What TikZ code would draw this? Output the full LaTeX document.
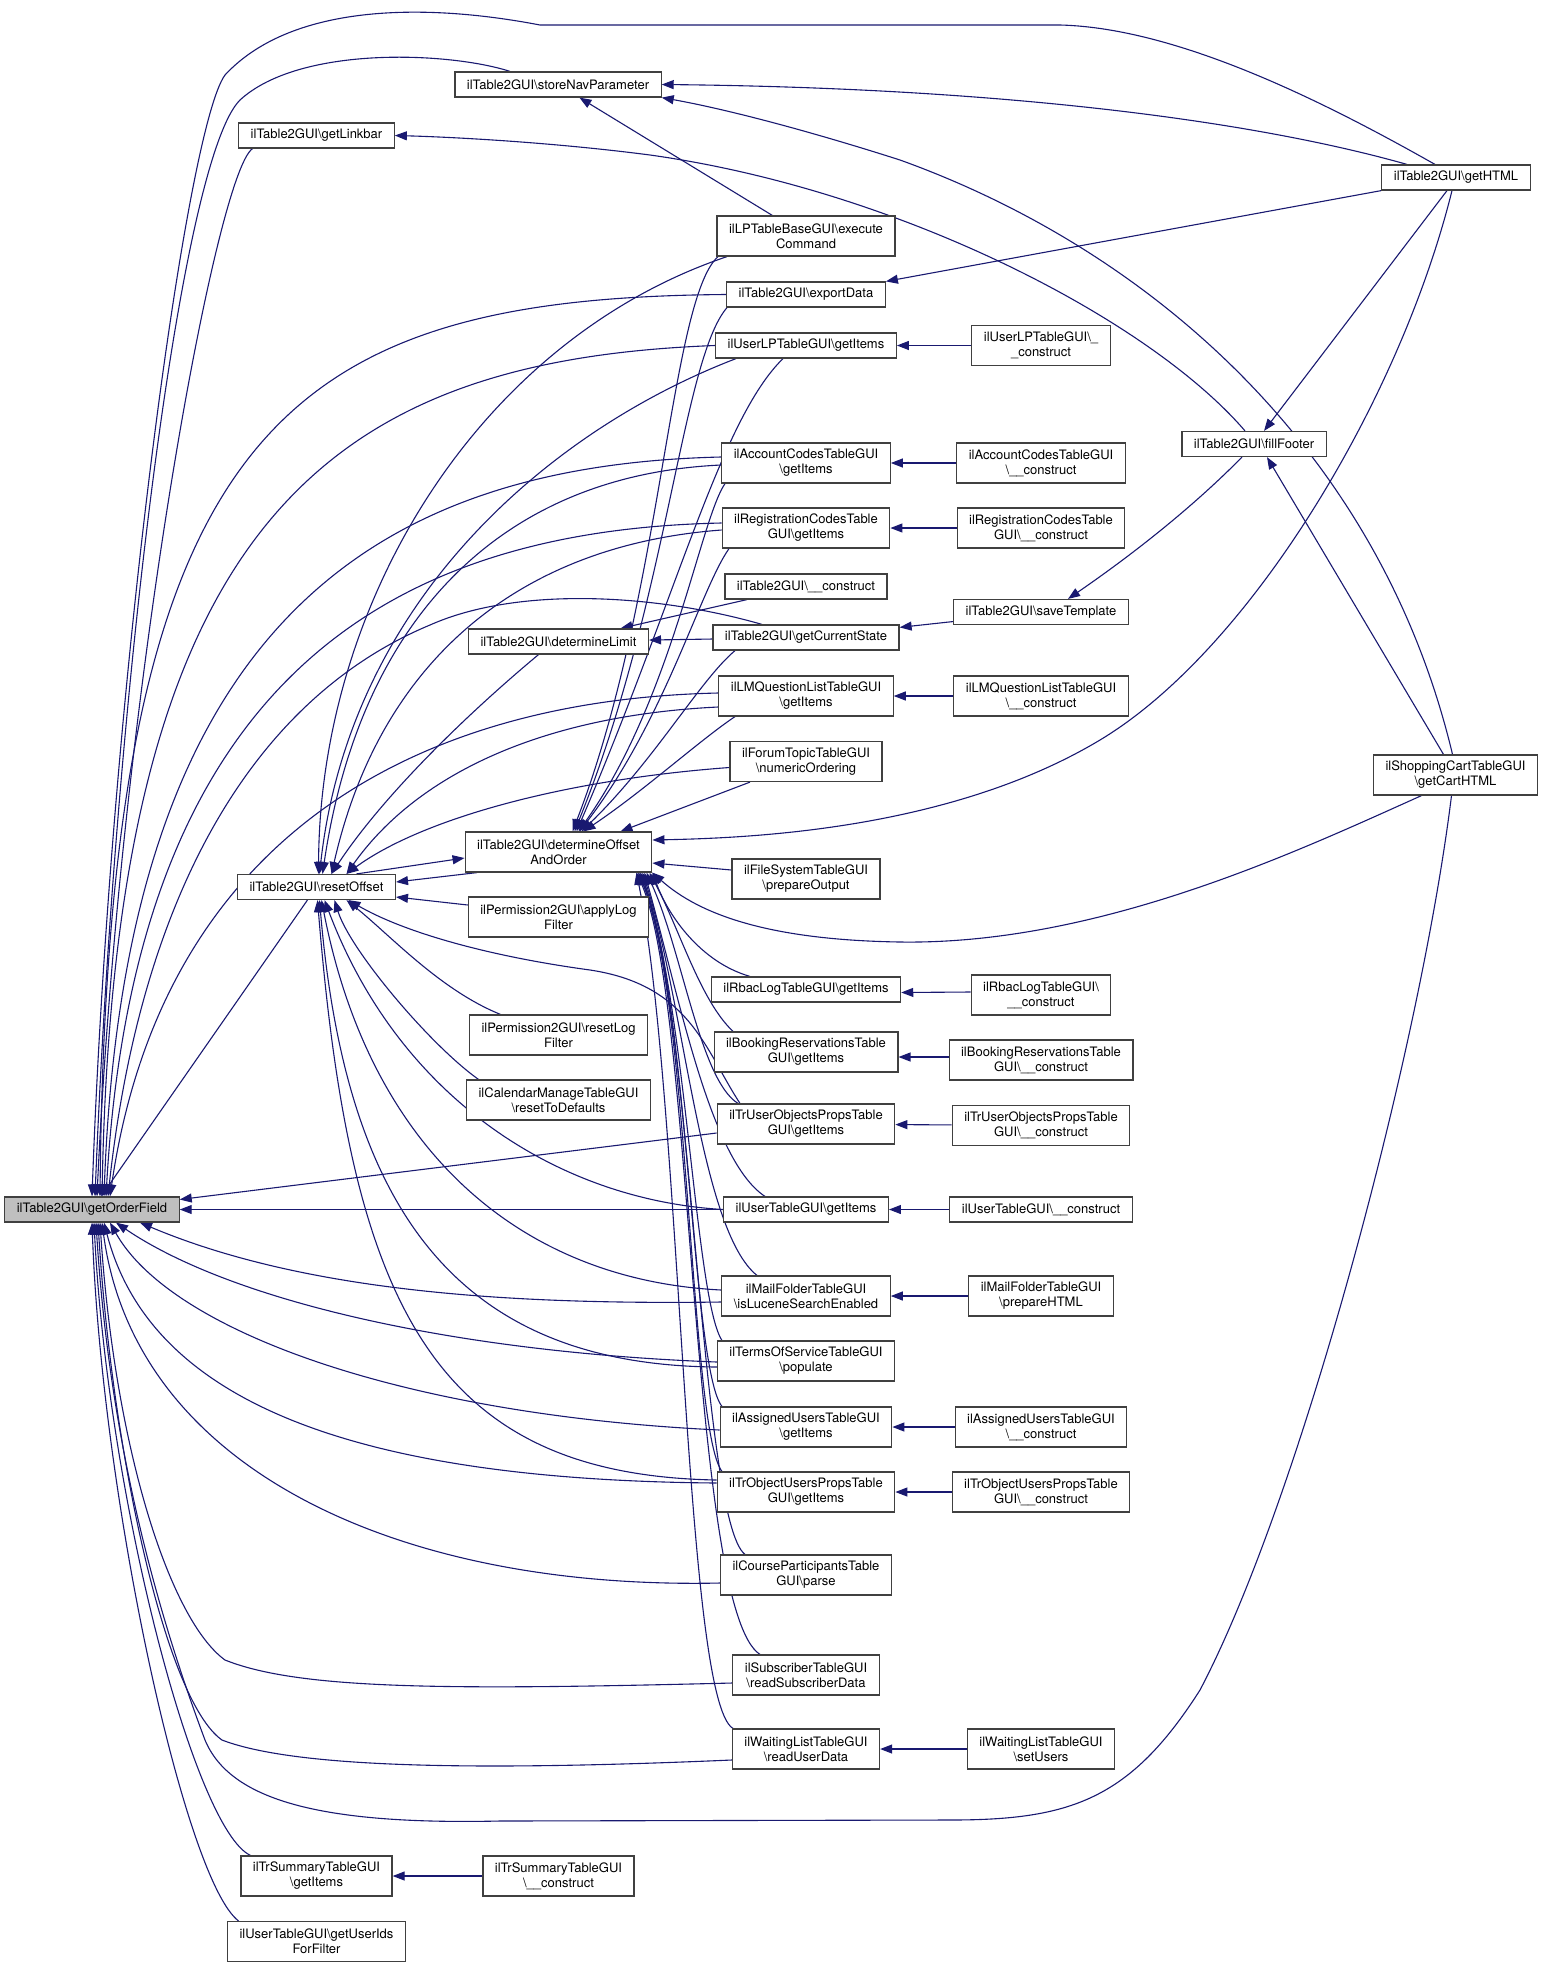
\documentclass[tikz,border=0pt]{standalone}
\usepackage{fontspec}
\setmainfont{TeX Gyre Heros}
\usepackage{tikz}
\usetikzlibrary{arrows.meta,backgrounds}
\definecolor{edgeblue}{RGB}{25,25,112}
\definecolor{boxline}{RGB}{64,64,64}
\newcommand{\bs}{\textbackslash}

\begin{document}
\begin{tikzpicture}[x=1pt, y=1pt,
            fn/.style={draw=boxline, line width=1.2pt, fill=white, rectangle, align=center, inner xsep=12pt, inner ysep=2pt, minimum height=25pt, font=\fontsize{13}{15}\selectfont},
            fntwo/.style={fn, minimum height=40pt},
            fnfocus/.style={fn, fill=gray!50},
            call/.style={draw=edgeblue, line width=1.1pt, -{Triangle[length=12pt,width=9pt]}}
        ]
        \useasboundingbox (0,0) rectangle (1543,-1968);

        % Knoten
        \node[fnfocus] (getorder) at (92,-1209.5) {ilTable2GUI\bs getOrderField};

        \node[fn] (linkbar) at (316.5,-135.5) {ilTable2GUI\bs getLinkbar};
        \node[fn] (reset) at (316.5,-887) {ilTable2GUI\bs resetOffset};
        \node[fntwo] (trsum) at (316.5,-1876) {ilTrSummaryTableGUI\\\bs getItems};
        \node[fntwo] (userids) at (316.5,-1941.5) {ilUserTableGUI\bs getUserIds\\ForFilter};

        \node[fn] (storenav) at (558,-84.5) {ilTable2GUI\bs storeNavParameter};
        \node[fn] (detlimit) at (558.5,-641.5) {ilTable2GUI\bs determineLimit};
        \node[fntwo] (detorder) at (558.5,-852) {ilTable2GUI\bs determineOffset\\AndOrder};
        \node[fntwo] (applylog) at (558.5,-917) {ilPermission2GUI\bs applyLog\\Filter};
        \node[fntwo] (resetlog) at (558.5,-1035) {ilPermission2GUI\bs resetLog\\Filter};
        \node[fntwo] (calendar) at (558.5,-1100) {ilCalendarManageTableGUI\\\bs resetToDefaults};
        \node[fntwo] (trsumcon) at (558.5,-1876) {ilTrSummaryTableGUI\\\bs\_\_construct};

        \node[fntwo] (exec) at (806,-236) {ilLPTableBaseGUI\bs execute\\Command};
        \node[fn] (export) at (806,-294.5) {ilTable2GUI\bs exportData};
        \node[fn] (userlp) at (806,-345.5) {ilUserLPTableGUI\bs getItems};
        \node[fntwo] (account) at (806,-463) {ilAccountCodesTableGUI\\\bs getItems};
        \node[fntwo] (regcodes) at (806,-528) {ilRegistrationCodesTable\\GUI\bs getItems};
        \node[fn] (t2con) at (806,-586.5) {ilTable2GUI\bs\_\_construct};
        \node[fn] (curstate) at (806,-637.5) {ilTable2GUI\bs getCurrentState};
        \node[fntwo] (lmq) at (806,-696) {ilLMQuestionListTableGUI\\\bs getItems};
        \node[fntwo] (forum) at (806,-761.5) {ilForumTopicTableGUI\\\bs numericOrdering};
        \node[fntwo] (filesys) at (806,-879) {ilFileSystemTableGUI\\\bs prepareOutput};
        \node[fn] (rbac) at (806,-989.5) {ilRbacLogTableGUI\bs getItems};
        \node[fntwo] (booking) at (806,-1052) {ilBookingReservationsTable\\GUI\bs getItems};
        \node[fntwo] (truser) at (806,-1124) {ilTrUserObjectsPropsTable\\GUI\bs getItems};
        \node[fn] (usertable) at (806,-1209.5) {ilUserTableGUI\bs getItems};
        \node[fntwo] (mailfolder) at (806,-1296) {ilMailFolderTableGUI\\\bs isLuceneSearchEnabled};
        \node[fntwo] (terms) at (806,-1361) {ilTermsOfServiceTableGUI\\\bs populate};
        \node[fntwo] (assigned) at (806,-1427) {ilAssignedUsersTableGUI\\\bs getItems};
        \node[fntwo] (trobject) at (806,-1492) {ilTrObjectUsersPropsTable\\GUI\bs getItems};
        \node[fntwo] (course) at (806,-1575) {ilCourseParticipantsTable\\GUI\bs parse};
        \node[fntwo] (subscriber) at (806,-1675) {ilSubscriberTableGUI\\\bs readSubscriberData};
        \node[fntwo] (waiting) at (806,-1749) {ilWaitingListTableGUI\\\bs readUserData};

        \node[fntwo] (userlpcon) at (1041,-345.5) {ilUserLPTableGUI\bs\_\\\_construct};
        \node[fntwo] (accountcon) at (1041,-463) {ilAccountCodesTableGUI\\\bs\_\_construct};
        \node[fntwo] (regcon) at (1041,-528) {ilRegistrationCodesTable\\GUI\bs\_\_construct};
        \node[fn] (savetpl) at (1041,-612) {ilTable2GUI\bs saveTemplate};
        \node[fntwo] (lmqcon) at (1041,-696) {ilLMQuestionListTableGUI\\\bs\_\_construct};
        \node[fntwo] (rbaccon) at (1041,-995) {ilRbacLogTableGUI\bs\\\_\_construct};
        \node[fntwo] (bookingcon) at (1041,-1060) {ilBookingReservationsTable\\GUI\bs\_\_construct};
        \node[fntwo] (trusercon) at (1041,-1125.5) {ilTrUserObjectsPropsTable\\GUI\bs\_\_construct};
        \node[fn] (usertablecon) at (1041,-1209.5) {ilUserTableGUI\bs\_\_construct};
        \node[fntwo] (mailcon) at (1041,-1296) {ilMailFolderTableGUI\\\bs prepareHTML};
        \node[fntwo] (assignedcon) at (1041,-1427) {ilAssignedUsersTableGUI\\\bs\_\_construct};
        \node[fntwo] (trobjectcon) at (1041,-1492) {ilTrObjectUsersPropsTable\\GUI\bs\_\_construct};
        \node[fntwo] (waitingcon) at (1041,-1749) {ilWaitingListTableGUI\\\bs setUsers};

        \node[fn] (fillfooter) at (1254,-444) {ilTable2GUI\bs fillFooter};
        \node[fn] (gethtml) at (1456,-177.5) {ilTable2GUI\bs getHTML};
        \node[fntwo] (cart) at (1455.5,-775) {ilShoppingCartTableGUI\\\bs getCartHTML};

        % Kanten zwischen Knoten
        \begin{scope}[on background layer]

        % -> getOrderField, von oben
        \draw[call] ([xshift=-21pt]gethtml.north) .. controls (1330,-105) and (1180,-28) .. (1060,-25) -- (540,-25) .. controls (420,-2) and (290,-5) .. (225,-75) .. controls (185,-130) and (110,-700) .. (getorder.north);

        \draw[call] ([xshift=-48pt]storenav.north) .. controls (450,-52) and (300,-45) .. (240,-100) .. controls (180,-160) and (115,-700) .. ([xshift=3pt]getorder.north);

        \draw[call] ([xshift=-64pt]linkbar.south) .. controls (215,-175) and (120,-700) .. ([xshift=5pt]getorder.north);

        \draw[call] (export.west) .. controls (280,-298) and (108,-430) .. ([xshift=8pt]getorder.north);

        \draw[call] (userlp.west) .. controls (330,-360) and (115,-520) .. ([xshift=10pt]getorder.north);

        \draw[call] ([yshift=6pt]account.west) .. controls (380,-465) and (125,-620) .. ([xshift=12pt]getorder.north);

        \draw[call] ([yshift=5pt]regcodes.west) .. controls (390,-530) and (135,-680) .. ([xshift=14pt]getorder.north);

        \draw[call] ([xshift=-44pt]curstate.north) .. controls (660,-595) and (520,-585) .. (430,-625) .. controls (250,-700) and (140,-900) .. ([xshift=16pt]getorder.north);

        \draw[call] ([yshift=3pt]lmq.west) .. controls (400,-700) and (160,-850) .. ([xshift=18pt]getorder.north);

        \draw[call] (reset) -- (getorder);

        % -> getOrderField, von rechts
        \draw[call] ([yshift=-9pt]truser.west) -- ([yshift=10pt]getorder.east);

        \draw[call] (usertable) -- (getorder);

        % -> getOrderField, von unten
        \draw[call] ([yshift=-6pt]mailfolder.west) .. controls (500,-1305) and (300,-1290) .. ([xshift=48pt]getorder.south);

        \draw[call] ([yshift=-1pt]terms.west) .. controls (450,-1352) and (230,-1300) .. ([xshift=24pt]getorder.south);

        \draw[call] ([yshift=-3pt]assigned.west) .. controls (400,-1415) and (170,-1330) .. ([xshift=18pt]getorder.south);

        \draw[call] ([yshift=9pt]trobject.west) .. controls (350,-1480) and (150,-1400) .. ([xshift=12pt]getorder.south);

        \draw[call] ([yshift=-8pt]course.west) .. controls (400,-1590) and (135,-1470) .. ([xshift=10pt]getorder.south);

        \draw[call] ([yshift=-8pt]subscriber.west) .. controls (450,-1690) and (300,-1690) .. (225,-1660) .. controls (170,-1620) and (115,-1450) .. ([xshift=8pt]getorder.south);

        \draw[call] ([yshift=-11pt]waiting.west) .. controls (500,-1770) and (300,-1770) .. (222,-1740) .. controls (165,-1700) and (112,-1450) .. ([xshift=6pt]getorder.south);

        \draw[call] ([xshift=-4pt]cart.south) .. controls (1420,-1050) and (1300,-1500) .. (1200,-1690) .. controls (1130,-1800) and (1070,-1820) .. (950,-1820) -- (500,-1821) .. controls (320,-1825) and (230,-1800) .. (205,-1740) .. controls (160,-1620) and (110,-1450) .. ([xshift=4pt]getorder.south);

        \draw[call] ([xshift=-66pt]trsum.north) .. controls (195,-1830) and (108,-1500) .. ([xshift=2pt]getorder.south);

        \draw[call] ([xshift=-78pt]userids.north) .. controls (185,-1880) and (102,-1500) .. (getorder.south);

        % -> resetOffset
        \draw[call] ([xshift=-79pt]exec.south) .. controls (480,-340) and (320,-600) .. ([xshift=2pt]reset.north);

        \draw[call] ([xshift=-70pt]userlp.south) .. controls (550,-430) and (350,-600) .. ([xshift=3pt]reset.north);

        \draw[call] ([yshift=-2pt]account.west) .. controls (500,-475) and (360,-620) .. ([xshift=6pt]reset.north);

        \draw[call] ([yshift=-2pt]regcodes.west) .. controls (520,-545) and (380,-660) .. ([xshift=15pt]reset.north);

        \draw[call] ([xshift=-20pt]detlimit.south) .. controls (460,-720) and (380,-800) .. ([xshift=15pt]reset.north);

        \draw[call] ([yshift=-11pt]lmq.west) .. controls (550,-715) and (420,-770) .. ([xshift=30pt]reset.north);

        \draw[call] ([yshift=-6pt]forum.west) .. controls (560,-780) and (420,-820) .. ([xshift=30pt]reset.north);

        \draw[call] ([xshift=-81.5pt]detorder.south) -- ([yshift=5pt]reset.east);

        \draw[call] ([xshift=40pt]reset.north) -- ([yshift=-6pt]detorder.west);

        \draw[call] ([yshift=12pt]applylog.west) -- ([yshift=-10pt]reset.east);

        \draw[call] ([xshift=-58pt]resetlog.north) .. controls (440,-990) and (390,-935) .. ([xshift=30pt]reset.south);

        \draw[call] ([xshift=-80pt]calendar.north) .. controls (430,-1045) and (350,-950) .. ([xshift=18pt]reset.south);

        \draw[call] ([xshift=-66pt]truser.north) .. controls (705,-1050) and (690,-985) .. (590,-970) .. controls (480,-955) and (400,-930) .. ([xshift=32pt]reset.south);

        \draw[call] (usertable.west) .. controls (560,-1200) and (400,-1100) .. ([xshift=8pt]reset.south);

        \draw[call] ([yshift=6pt]mailfolder.west) .. controls (520,-1280) and (370,-1150) .. ([xshift=5pt]reset.south);

        \draw[call] ([yshift=-6pt]terms.west) .. controls (450,-1365) and (345,-1200) .. ([xshift=3pt]reset.south);

        \draw[call] ([yshift=12pt]trobject.west) .. controls (430,-1475) and (350,-1300) .. ([xshift=1pt]reset.south);

        % -> determineOffsetAndOrder
        \draw[call] ([xshift=-88pt]exec.south) .. controls (670,-300) and (662,-600) .. ([xshift=14pt]detorder.north);

        \draw[call] ([xshift=-79pt]export.south) .. controls (682,-360) and (668,-600) .. ([xshift=16pt]detorder.north);

        \draw[call] ([xshift=-23pt]userlp.south) .. controls (720,-420) and (676,-600) .. ([xshift=18pt]detorder.north);

        \draw[call] ([xshift=-81pt]account.south) .. controls (700,-520) and (672,-700) .. ([xshift=20pt]detorder.north);

        \draw[call] ([xshift=-77pt]regcodes.south) .. controls (700,-590) and (665,-720) .. ([xshift=21pt]detorder.north);

        \draw[call] ([xshift=-71pt]curstate.south) .. controls (700,-680) and (655,-760) .. ([xshift=23pt]detorder.north);

        \draw[call] ([xshift=-71pt]lmq.south) .. controls (700,-740) and (645,-790) .. ([xshift=25pt]detorder.north);

        \draw[call] ([xshift=-56pt]forum.south) -- ([xshift=62pt]detorder.north);

        \draw[call] ([xshift=-4pt]gethtml.south) .. controls (1400,-400) and (1250,-650) .. (1100,-740) .. controls (950,-830) and (750,-838) .. ([yshift=12pt]detorder.east);

        \draw[call] ([yshift=9pt]filesys.west) -- ([yshift=-11pt]detorder.east);

        \draw[call] ([xshift=-34pt]cart.south) .. controls (1300,-850) and (1100,-945) .. (900,-942) .. controls (770,-940) and (700,-915) .. (detorder.south east);

        \draw[call] ([xshift=-56pt]rbac.north) .. controls (700,-962) and (668,-915) .. (detorder.south east);

        \draw[call] ([xshift=-73pt]booking.north) .. controls (700,-1000) and (680,-930) .. ([xshift=-3pt]detorder.south east);

        \draw[call] ([xshift=-68pt]truser.north) .. controls (700,-1080) and (682,-950) .. ([xshift=-6pt]detorder.south east);

        \draw[call] ([xshift=-41pt]usertable.north) .. controls (710,-1160) and (680,-1000) .. ([xshift=-8pt]detorder.south east);

        \draw[call] ([xshift=-49pt]mailfolder.north) .. controls (700,-1230) and (684,-1000) .. ([xshift=-10pt]detorder.south east);

        \draw[call] ([xshift=-84pt]terms.north) .. controls (695,-1300) and (686,-1000) .. ([xshift=-12pt]detorder.south east);

        \draw[call] ([xshift=-84pt]assigned.north) .. controls (692,-1370) and (688,-1000) .. ([xshift=-12pt]detorder.south east);

        \draw[call] ([xshift=-84pt]trobject.north) .. controls (690,-1430) and (690,-1000) .. ([xshift=-14pt]detorder.south east);

        \draw[call] ([xshift=-61pt]course.north) .. controls (700,-1520) and (692,-1000) .. ([xshift=-14pt]detorder.south east);

        \draw[call] ([xshift=-46pt]subscriber.north) .. controls (690,-1610) and (694,-1000) .. ([xshift=-16pt]detorder.south east);

        \draw[call] ([xshift=-73pt]waiting.north) .. controls (684,-1700) and (682,-1100) .. ([xshift=-16pt]detorder.south east);

        % uebrige Kanten
        \draw[call] ([xshift=-59pt]t2con.south) -- ([xshift=62pt]detlimit.north);

        \draw[call] (curstate) -- (detlimit);

        \draw[call] (savetpl) -- (curstate);

        \draw[call] (exec) -- (storenav);

        \draw[call] ([xshift=-49pt]gethtml.north) .. controls (1250,-120) and (1000,-88) .. (storenav.east);

        \draw[call] ([xshift=-3pt]cart.north) .. controls (1380,-450) and (1150,-250) .. (900,-160) .. controls (800,-128) and (720,-108) .. (storenav.south east);

        \draw[call] ([xshift=-12pt]cart.north) -- ([xshift=13pt]fillfooter.south);

        \draw[call] ([xshift=-9pt]gethtml.south) -- ([xshift=10pt]fillfooter.north);

        \draw[call] (gethtml.south west) -- (export.north east);

        \draw[call] ([xshift=-9pt]fillfooter.north) .. controls (1150,-320) and (900,-190) .. (650,-155) .. controls (550,-142) and (450,-137) .. (linkbar.east);

        \draw[call] ([xshift=-12pt]fillfooter.south) .. controls (1180,-520) and (1110,-570) .. ([xshift=27pt]savetpl.north);

        % Konstruktoren
        \draw[call] (userlpcon) -- (userlp);
        \draw[call] (accountcon) -- (account);
        \draw[call] (regcon) -- (regcodes);
        \draw[call] (lmqcon) -- (lmq);
        \draw[call] ([yshift=3pt]rbaccon.west) -- ([yshift=-3pt]rbac.east);
        \draw[call] ([yshift=3pt]bookingcon.west) -- ([yshift=-5pt]booking.east);
        \draw[call] (trusercon) -- (truser);
        \draw[call] (usertablecon) -- (usertable);
        \draw[call] (mailcon) -- (mailfolder);
        \draw[call] (assignedcon) -- (assigned);
        \draw[call] (trobjectcon) -- (trobject);
        \draw[call] (waitingcon) -- (waiting);
        \draw[call] (trsumcon) -- (trsum);

        \end{scope}

    \end{tikzpicture}
\end{document}
